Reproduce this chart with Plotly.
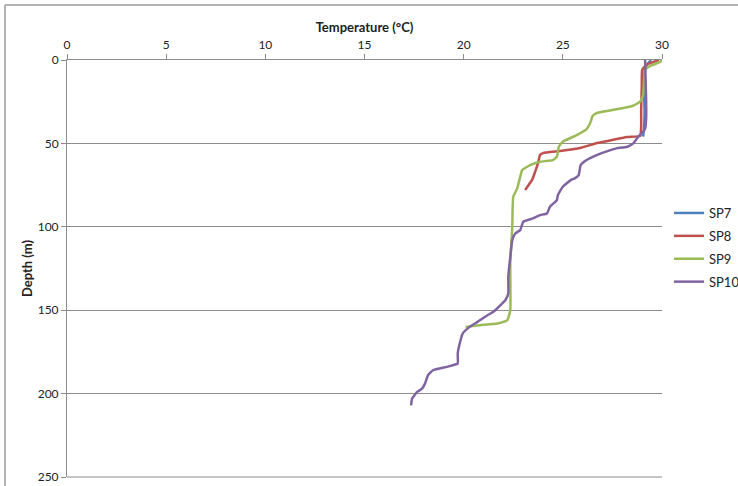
import plotly.graph_objects as go

# SP7 (mostly hidden beneath SP10)
sp7_temp = [29.45, 29.3, 29.15, 29.1, 29.1, 29.12, 29.1, 29.05]
sp7_depth = [0, 2, 5, 10, 20, 30, 40, 46]

sp8_temp = [29.85, 29.6, 29.2, 29.0, 28.98, 28.95, 28.95, 28.9, 28.24, 26.73, 25.87, 24.86, 24.0, 23.85, 23.75, 23.6, 23.45, 23.1]
sp8_depth = [0, 1, 3, 6, 15, 30, 40, 45.5, 46.2, 49.8, 52.8, 54.6, 55.8, 57.0, 61.8, 67.1, 71.9, 77.9]

sp9_temp = [30.0, 29.9, 29.4, 29.15, 29.1, 29.05, 28.9, 28.5, 27.5, 26.7, 26.5, 26.4, 26.2, 25.7, 25.0, 24.8, 24.7, 24.5, 23.85, 23.35,
            22.95, 22.85, 22.7, 22.5, 22.45, 22.35, 22.35, 22.2, 21.7, 20.8, 20.1]
sp9_depth = [0, 1.2, 3.6, 6, 12, 21, 25, 27.6, 30, 31.8, 33.6, 37.2, 41.4, 45, 49, 52, 58, 60, 61, 63,
             66, 70, 77, 82, 100, 122, 150, 156, 158, 159, 160]

sp10_temp = [29.15, 29.2, 29.2, 29.15, 29.05, 28.8, 28.55, 28.25, 27.7, 27.4, 26.7, 26.2, 25.9, 25.8, 25.6, 25.4, 25.0, 24.75, 24.7,
             24.35, 24.2, 23.85, 23.5, 23.0, 22.85, 22.6, 22.45, 22.35, 22.25, 22.25, 22.1, 21.85, 21.5, 21.2, 20.7, 20.3, 19.95,
             19.8, 19.7, 19.7, 19.45, 19.15, 18.45, 18.2, 18.05, 17.9, 17.65, 17.4, 17.35]
sp10_depth = [0, 24, 35, 41, 43, 46, 50, 52, 53, 54, 57, 60, 63, 69, 71, 72, 76, 81, 84,
              88, 92, 93, 95, 97, 102, 104, 108, 118, 130, 140, 144, 147, 151, 153, 157, 160, 164,
              170, 176, 182, 183, 184, 186, 189, 194, 197, 199, 203, 207]

x_ticks = [0, 5, 10, 15, 20, 25, 30]
y_ticks = [0, 50, 100, 150, 200, 250]

series = [
    ("SP7", sp7_temp, sp7_depth, "#4F81BD"),
    ("SP8", sp8_temp, sp8_depth, "#C0504D"),
    ("SP9", sp9_temp, sp9_depth, "#9BBB59"),
    ("SP10", sp10_temp, sp10_depth, "#8064A2"),
]

FONT = "Lato, 'Open Sans', sans-serif"
GRID = "#8c8c8c"

fig = go.Figure()
for name, t, d, c in series:
    fig.add_trace(go.Scatter(x=t, y=d, mode="lines", name=name, legendgroup=name,
                             line=dict(color=c, width=2.5, shape="spline", smoothing=0.4)))

L, R, T, B = 67, 76, 60, 9
W, H = 738, 486
pw, ph = W - L - R, H - T - B

def px(x):
    return (x - L) / pw

def py(y):
    return 1 - (y - T) / ph

fig.update_layout(
    width=W, height=H,
    margin=dict(l=L, r=R, t=T, b=B, autoexpand=False),
    paper_bgcolor="white", plot_bgcolor="white",
    font=dict(family=FONT, size=12, color="#222222"),
    showlegend=True,
    legend=dict(x=px(669), y=py(247.5), xanchor="left", yanchor="middle",
                font=dict(family=FONT, size=13, color="#222222"),
                bgcolor="rgba(0,0,0,0)", tracegroupgap=3, itemwidth=30,
                traceorder="grouped"),
    xaxis=dict(
        side="top", range=[0, 30], tickvals=x_ticks, automargin=False,
        showgrid=False, zeroline=False,
        showline=True, linecolor=GRID, linewidth=1,
        ticks="outside", ticklen=5, tickcolor=GRID,
        tickfont=dict(family=FONT, size=12, color="#222222"),
        title=dict(text="<b>Temperature (°C)</b>", font=dict(family=FONT, size=13, color="#222222"), standoff=1),
    ),
    yaxis=dict(
        range=[250, 0], tickvals=y_ticks, automargin=False,
        showgrid=True, gridcolor=GRID, gridwidth=1, zeroline=False,
        showline=True, linecolor=GRID, linewidth=1,
        ticks="outside", ticklen=5, tickcolor=GRID,
        tickfont=dict(family=FONT, size=12, color="#222222"),
        title=dict(text="<b>Depth (m)</b>", font=dict(family=FONT, size=13, color="#222222"), standoff=2),
    ),
    shapes=[
        dict(type="line", xref="paper", yref="paper", x0=px(5), x1=px(745), y0=py(5), y1=py(5),
             line=dict(color="#9a9a9a", width=1.5)),
        dict(type="line", xref="paper", yref="paper", x0=px(5), x1=px(5), y0=py(5), y1=py(495),
             line=dict(color="#9a9a9a", width=1.5)),
        dict(type="line", xref="paper", yref="paper", x0=0, x1=1, y0=0, y1=0,
             line=dict(color=GRID, width=1)),
    ],
)

fig.write_html("out.html", config={"displayModeBar": False},
               post_script="document.body.style.margin='0';document.body.style.overflow='hidden';")
